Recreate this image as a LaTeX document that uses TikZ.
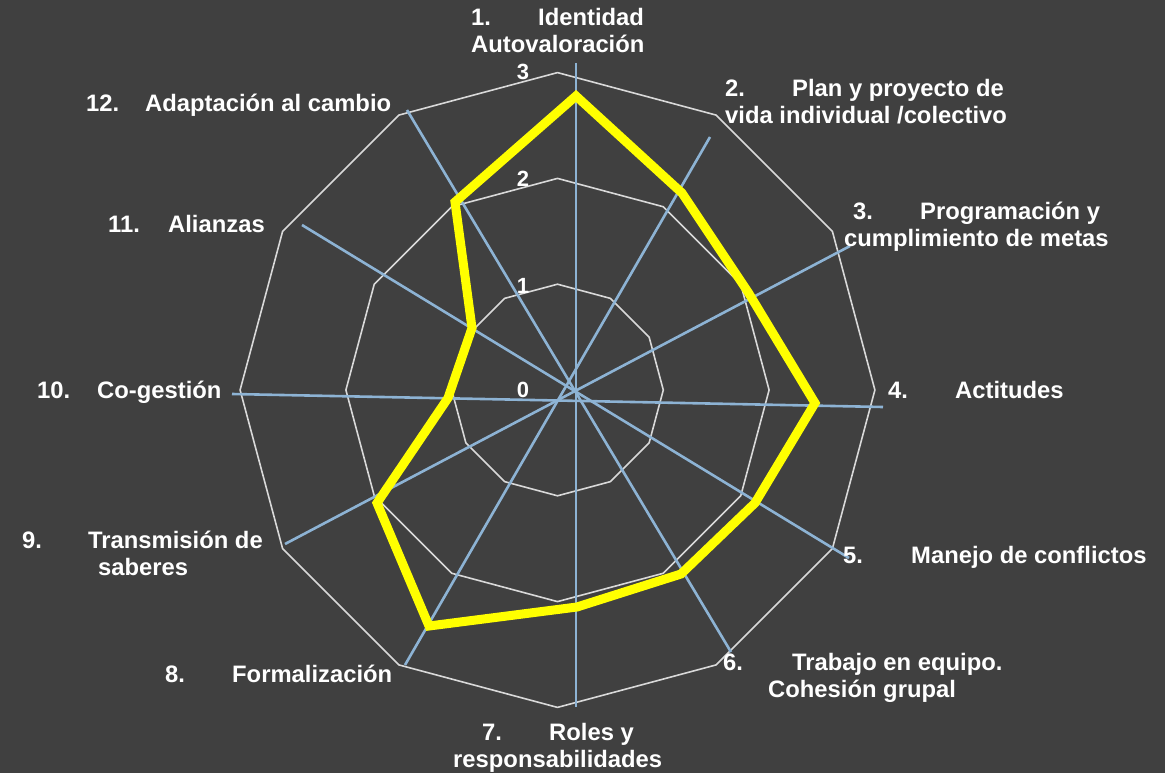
\documentclass[tikz,border=0pt]{standalone}
\usepackage{fontspec}
\setmainfont{Liberation Sans}[Ligatures=NoCommon]
\usetikzlibrary{positioning}
\definecolor{chartbg}{RGB}{64,64,64}
\definecolor{gridgray}{RGB}{217,217,217}
\definecolor{axisblue}{RGB}{141,179,212}
\definecolor{datayellow}{RGB}{255,255,0}

\begin{document}
\begin{tikzpicture}[x=1pt,y=-1pt,
  gridline/.style={draw=gridgray,line width=1.6pt},
  axisline/.style={draw=axisblue,line width=2.6pt},
  dataline/.style={draw=datayellow,line width=9pt,line join=miter},
  catlabel/.style={text=white,font=\fontsize{23.8}{27}\selectfont\bfseries,anchor=base west,align=left,inner sep=0pt},
  ticklabel/.style={text=white,font=\fontsize{22}{24}\selectfont\bfseries,anchor=base,inner sep=0pt}
  ]

  \fill [chartbg] (0,0) rectangle (1165,773);
  \useasboundingbox (0,0) rectangle (1165,773);

  % grid rings
  \coordinate (center) at (557.5,390);
  \begin{scope}[shift={(center)}]
    \foreach \k in {1,2,3} {
      \draw [gridline] (-90:{105.8*\k}) \foreach \i in {1,...,11} {-- ({30*\i-90}:{105.8*\k})} -- cycle;
    }
  \end{scope}

  % scale values
  \node [ticklabel] at (523,397) (tick0) {0};
  \node [ticklabel] at (523,293) (tick1) {1};
  \node [ticklabel] at (523,186) (tick2) {2};
  \node [ticklabel] at (523,80) (tick3) {3};

  % axes
  \coordinate (ax1) at (576,63);   \coordinate (ax7) at (576,707);
  \coordinate (ax2) at (710,137);  \coordinate (ax8) at (405,665);
  \coordinate (ax3) at (850,246);  \coordinate (ax9) at (285,544);
  \coordinate (ax4) at (883,407);  \coordinate (ax10) at (232,394);
  \coordinate (ax5) at (849,558);  \coordinate (ax11) at (302,225);
  \coordinate (ax6) at (731,652);  \coordinate (ax12) at (407,110);
  \foreach \a/\b in {1/7,2/8,3/9,4/10,5/11,6/12}
    \draw [axisline] (ax\a) -- (ax\b);

  % data
  \coordinate (d1) at (576,96);
  \coordinate (d2) at (682,193);
  \coordinate (d3) at (748,292);
  \coordinate (d4) at (815,403);
  \coordinate (d5) at (755,503);
  \coordinate (d6) at (681,574);
  \coordinate (d7) at (577,607);
  \coordinate (d8) at (429,626);
  \coordinate (d9) at (377,503);
  \coordinate (d10) at (448,398);
  \coordinate (d11) at (472,328);
  \coordinate (d12) at (455,202);
  \draw [dataline] (d1) \foreach \i in {2,...,12} {-- (d\i)} -- cycle;

  % categories (base = last line)
  \node [catlabel] at (471,53) (cat1) {\makebox[67pt][l]{1.}Identidad\\Autovaloración};
  \node [catlabel] at (725,124) (cat2) {\makebox[67pt][l]{2.}Plan y proyecto de\\vida individual /colectivo};
  \node [catlabel] at (844,246) (cat3) {\hspace*{9pt}\makebox[67pt][l]{3.}Programación y\\cumplimiento de metas};
  \node [catlabel] at (888,398) (cat4) {\makebox[67pt][l]{4.}Actitudes};
  \node [catlabel] at (843,563) (cat5) {\makebox[68pt][l]{5.}Manejo de conflictos};
  \node [catlabel] at (723,697) (cat6) {\makebox[69pt][l]{6.}Trabajo en equipo.\\\hspace*{45pt}Cohesión grupal};
  \node [catlabel] at (453,767) (cat7) {\hspace*{29pt}\makebox[67pt][l]{7.}Roles y\\responsabilidades};
  \node [catlabel] at (165,682) (cat8) {\makebox[67pt][l]{8.}Formalización};
  \node [catlabel] at (22,575) (cat9) {\makebox[66pt][l]{9.}Transmisión de\\\hspace*{76pt}saberes};
  \node [catlabel] at (37,398) (cat10) {\makebox[60pt][l]{10.}Co-gestión};
  \node [catlabel] at (108,232) (cat11) {\makebox[60pt][l]{11.}Alianzas};
  \node [catlabel] at (86,112) (cat12) {\makebox[59pt][l]{12.}Adaptación al cambio};

\end{tikzpicture}
\end{document}
